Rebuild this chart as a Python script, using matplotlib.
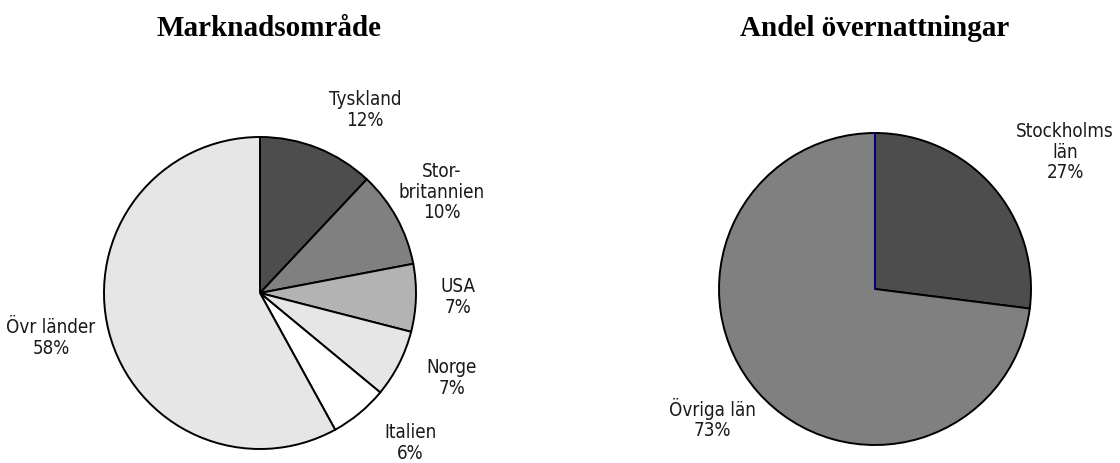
import numpy as np
import matplotlib
matplotlib.use("Agg")
from matplotlib import pyplot as plt

# Marknadsområde
markets = ["Tyskland", "Stor-\nbritannien", "USA", "Norge", "Italien", "Övr länder"]
market_share = [12, 10, 7, 7, 6, 58]
market_colors = ["#4d4d4d", "#808080", "#b3b3b3", "#e6e6e6", "#ffffff", "#e6e6e6"]

# Andel övernattningar
regions = ["Stockholms\nlän", "Övriga län"]
region_share = [27, 73]
region_colors = ["#4d4d4d", "#808080"]

label_font = ["DejaVu Sans"]
title_font = ["Liberation Serif", "DejaVu Serif"]

W, H = 1120, 464
R = 156.0  # pie radius in pixels


def make_axes(fig, cx, cy, half=200):
    # axes centred on (cx, cy) in pixel coords (top-left origin), 1 data unit = R px
    ax = fig.add_axes([(cx - half) / W, (H - cy - half) / H, 2 * half / W, 2 * half / H])
    return ax


# label positions in pixels (centre of the text block)
market_label_px = [(365, 110), (442, 192), (458, 297), (452, 378), (410, 443), (51, 338)]
region_label_px = [(1065, 152), (712, 419)]

fig = plt.figure(figsize=(W / 100, H / 100), dpi=100)


def draw_pie(ax, cx, cy, values, names, colors, label_px, title, title_x):
    ax.pie(values, colors=colors, startangle=90, counterclock=False, radius=1,
           wedgeprops=dict(edgecolor="black", linewidth=1.4))
    lim = 200 / R
    ax.set_xlim(-lim, lim)
    ax.set_ylim(-lim, lim)
    ax.set_aspect("equal")
    ax.axis("off")
    for name, v, (px, py) in zip(names, values, label_px):
        ax.text((px - cx) / R, (cy - py) / R, "{}\n{}%".format(name, v),
                ha="center", va="center", fontsize=13.5, family=label_font,
                fontstretch="condensed", color="#1a1a1a", linespacing=1.1)
    fig.text(title_x / W, 1 - 28 / H, title, ha="center", va="center",
             fontsize=21, fontweight="bold", family=title_font)


ax1 = make_axes(fig, 260, 294)
draw_pie(ax1, 260, 294, market_share, markets, market_colors, market_label_px,
         "Marknadsområde", 269)

ax2 = make_axes(fig, 875, 290)
draw_pie(ax2, 875, 290, region_share, regions, region_colors, region_label_px,
         "Andel övernattningar", 875)
# navy edge at the 12 o'clock boundary
ax2.plot([0, np.cos(np.pi / 2)], [0, np.sin(np.pi / 2)], color="#000080", lw=1.4)

fig.savefig("out.png", dpi=100)
